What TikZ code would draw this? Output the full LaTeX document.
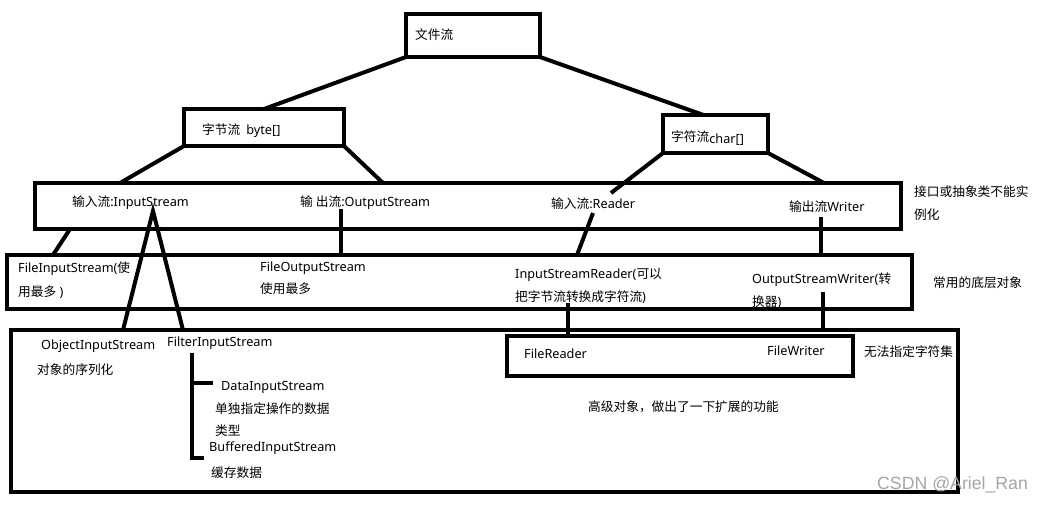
\documentclass[tikz,border=0pt]{standalone}
\usepackage{fontspec}
\setmainfont{Noto Sans}
\newfontfamily\cjk{Noto Sans CJK SC}
\newfontfamily\wmfont{Liberation Sans}
\newcommand\zhtxt[1]{{\cjk #1}}
\usetikzlibrary{calc}
\begin{document}
\begin{tikzpicture}[x=1pt,y=-1pt,
  box/.style={draw, line width=4pt, inner sep=0pt, outer sep=0pt, rectangle},
  conn/.style={line width=4pt},
  lbl/.style={anchor=west, inner sep=0pt, font=\fontsize{12.7}{15}\selectfont}]
\useasboundingbox[fill=white] (0,0) rectangle (1044,504);

% boxes
\node[box, minimum width=134pt, minimum height=43pt] (root) at (473,35.5) {};
\node[box, minimum width=160pt, minimum height=37pt] (byte) at (264,127.5) {};
\node[box, minimum width=105pt, minimum height=38pt] (char) at (715.5,134) {};
\node[box, minimum width=866pt, minimum height=46pt] (iface) at (468,206) {};
\node[box, minimum width=905pt, minimum height=54pt] (base) at (459.5,282) {};
\node[box, minimum width=947pt, minimum height=162pt] (adv) at (484.5,411) {};
\node[box, minimum width=346pt, minimum height=40pt] (fr) at (680,356) {};

% texts
\node[lbl] (tRoot) at (415,35) {\zhtxt{文件流}};
\node[lbl] (tByte) at (202,131) {\zhtxt{字节流}\hspace{6pt}byte[]};
\node[lbl] (tChar) at (671,138) {\zhtxt{字符流}\raisebox{-2pt}{char[]}};
\node[lbl] (tIS) at (72,203) {\zhtxt{输入流}:InputStream};
\node[lbl] (tOS) at (300,203) {\zhtxt{输}\hspace{3pt}\zhtxt{出流}:OutputStream};
\node[lbl] (tRd) at (551,204) {\zhtxt{输入流}:Reader};
\node[lbl] (tWr) at (789,207) {\zhtxt{输出流}Writer};
\node[lbl] (nIf1) at (914,192) {\zhtxt{接口或抽象类不能实}};
\node[lbl] (nIf2) at (914,215) {\zhtxt{例化}};

\node[lbl] (tFIS1) at (18,269) {FileInputStream(\zhtxt{使}};
\node[lbl] (tFIS2) at (18,292) {\zhtxt{用最多} )};
\node[lbl] (tFOS1) at (260,268) {FileOutputStream};
\node[lbl] (tFOS2) at (260,289) {\zhtxt{使用最多}};
\node[lbl] (tISR1) at (515,275) {InputStreamReader(\zhtxt{可以}};
\node[lbl] (tISR2) at (515,297) {\zhtxt{把字节流转换成字符流})};
\node[lbl] (tOSW1) at (752,280) {OutputStreamWriter(\zhtxt{转}};
\node[lbl] (tOSW2) at (752,302) {\zhtxt{换器})};
\node[lbl] (nBase) at (933,283) {\zhtxt{常用的底层对象}};

\node[lbl] (tOIS1) at (41,346) {ObjectInputStream};
\node[lbl] (tOIS2) at (37,370) {\zhtxt{对象的序列化}};
\node[lbl] (tFilt) at (167,343) {FilterInputStream};
\node[lbl] (tDIS1) at (221,387) {DataInputStream};
\node[lbl] (tDIS2) at (215,409) {\zhtxt{单独指定操作的数据}};
\node[lbl] (tDIS3) at (215,431) {\zhtxt{类型}};
\node[lbl] (tBIS1) at (209,448) {BufferedInputStream};
\node[lbl] (tBIS2) at (211,473) {\zhtxt{缓存数据}};
\node[lbl] (tFR) at (524,354) {FileReader};
\node[lbl] (tFW) at (767,351) {FileWriter};
\node[lbl] (nFR) at (864,352) {\zhtxt{无法指定字符集}};
\node[lbl] (nAdv) at (588,407) {\zhtxt{高级对象，做出了一下扩展的功能}};
\node[anchor=west, inner sep=0pt, text=black!35, font=\wmfont\fontsize{17.7}{20}\selectfont] (wm) at (877,485) {CSDN @Ariel\_Ran};

% connectors
\draw[conn] (root.south west) -- (byte.north);
\draw[conn] (root.south east) -- ([xshift=-12pt]char.north);
\draw[conn] (byte.south west) -- ([xshift=-348pt]iface.north);
\draw[conn] (byte.south east) -- ([xshift=-85pt]iface.north);
\draw[conn] (char.south west) -- ([xshift=143pt,yshift=-10pt]iface.north);
\draw[conn] (char.south east) -- ([xshift=356pt]iface.north);

\draw[conn] ([xshift=-398pt]iface.south) -- ([xshift=-406.5pt]base.north);
\coordinate (isapex) at (153,211);
\draw[conn] ([xshift=-361.5pt]adv.north) -- (isapex) -- ([xshift=-301.5pt]adv.north);
\draw[conn] ([xshift=-127pt,yshift=-26pt]iface.north) -- ([xshift=-118.5pt]base.north);
\draw[conn] ([xshift=125pt,yshift=-30pt]iface.north) -- ([xshift=117.5pt]base.north);
\draw[conn] ([xshift=353pt,yshift=-34pt]iface.north) -- ([xshift=361.5pt]base.north);

\draw[conn] ([xshift=108.5pt,yshift=6pt]base.south) -- ([xshift=-112pt]fr.north);
\draw[conn] ([xshift=363.5pt,yshift=17pt]base.south) -- ([xshift=338.5pt]adv.north);

% bracket under FilterInputStream
\draw[conn] (204,458) -- (192,458) -- (192,353);
\draw[conn] (192,383) -- (213,383);
\end{tikzpicture}
\end{document}
